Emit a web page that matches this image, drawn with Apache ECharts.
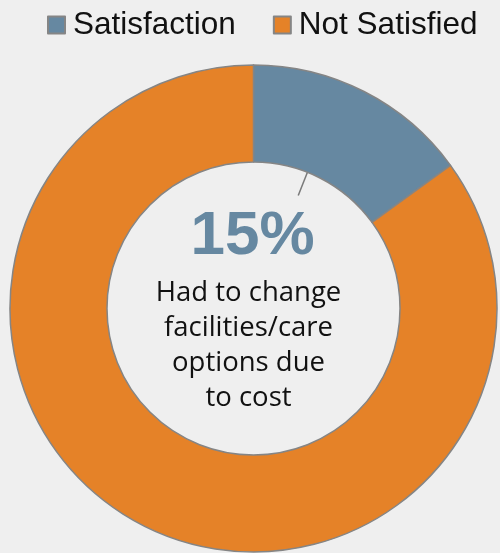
<!DOCTYPE html>
<html>
<head>
<meta charset="utf-8">
<script src="https://cdn.jsdelivr.net/npm/echarts@6/dist/echarts.min.js"></script>
<style>
  html, body { margin: 0; padding: 0; background: #efefef; }
  #chart { width: 500px; height: 553px; }
</style>
</head>
<body>
<div id="chart"></div>
<script>
// Survey result: share of respondents who had to change care because of cost
const categories = ['Satisfaction', 'Not Satisfied'];
const values = [15, 85];
const colors = ['#6688a1', '#e58228'];
const centerLines = ['Had to change', 'facilities/care', 'options due', 'to cost'];

const chart = echarts.init(document.getElementById('chart'), null, { renderer: 'canvas' });

const cx = 253.5, cy = 308.5, rIn = 146.5, rOut = 243.5;
const total = values.reduce((a, b) => a + b, 0);
const pct = Math.round(values[0] / total * 100) + '%';

// short pointer tick reaching into the hole from the blue segment
const tickAngle = 21.6 * Math.PI / 180;
const tickLen = 25;

chart.setOption({
  backgroundColor: '#efefef',
  animation: false,
  color: colors,
  legend: {
    top: 4,
    left: 42,
    itemWidth: 17,
    itemHeight: 17,
    itemGap: 37,
    icon: 'rect',
    textStyle: {
      fontFamily: 'Liberation Sans, Arial, sans-serif',
      fontSize: 31.5,
      color: '#111',
      padding: [0, 0, 0, 3]
    },
    data: categories
  },
  series: [{
    type: 'pie',
    center: [cx, cy],
    radius: [rIn, rOut],
    startAngle: 90,
    clockwise: true,
    label: { show: false },
    labelLine: { show: false },
    emphasis: { disabled: true },
    itemStyle: { borderColor: '#858585', borderWidth: 1.5 },
    data: categories.map((name, i) => ({ name, value: values[i] }))
  }],
  graphic: [
    {
      type: 'line',
      shape: {
        x1: cx + rIn * Math.sin(tickAngle),
        y1: cy - rIn * Math.cos(tickAngle),
        x2: cx + (rIn - tickLen) * Math.sin(tickAngle),
        y2: cy - (rIn - tickLen) * Math.cos(tickAngle)
      },
      style: { stroke: '#7a7a7a', lineWidth: 1.5 }
    },
    {
      type: 'text',
      x: 252.5,
      y: 237,
      style: {
        text: pct,
        fill: colors[0],
        font: 'bold 62px "Liberation Sans", Arial, sans-serif',
        align: 'center',
        verticalAlign: 'middle'
      }
    },
    {
      type: 'text',
      x: 248.5,
      y: 276,
      style: {
        text: centerLines.join('\n'),
        fill: '#111',
        font: '27.5px "Open Sans", sans-serif',
        lineHeight: 35,
        align: 'center',
        verticalAlign: 'top'
      }
    }
  ]
});
</script>
</body>
</html>
